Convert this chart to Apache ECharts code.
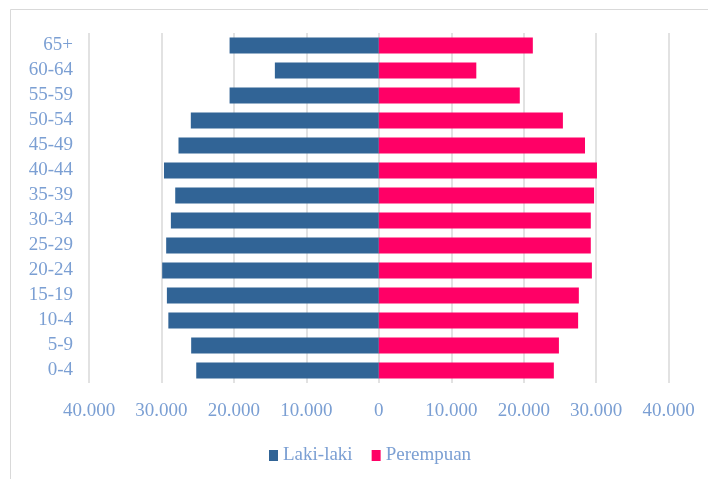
<!DOCTYPE html>
<html>
<head>
<meta charset="utf-8">
<script src="https://cdn.jsdelivr.net/npm/echarts@6/dist/echarts.min.js"></script>
<style>html,body{margin:0;padding:0;background:#fff}#c{width:708px;height:479px}</style>
</head>
<body>
<div id="c"></div>
<script>
var categories = ['0-4','5-9','10-4','15-19','20-24','25-29','30-34','35-39','40-44','45-49','50-54','55-59','60-64','65+'];
var lakiLaki = [25200, 25900, 29050, 29250, 29900, 29350, 28700, 28100, 29650, 27650, 25950, 20600, 14350, 20600];
var perempuan = [24150, 24850, 27500, 27600, 29400, 29250, 29250, 29700, 30100, 28450, 25400, 19450, 13450, 21250];
var seriesNames = ['Laki-laki', 'Perempuan'];

var labelColor = '#7B9FD3';
var fontFamily = '"Liberation Serif", "DejaVu Serif", serif';
var chart = echarts.init(document.getElementById('c'), null, {renderer: 'canvas'});
chart.setOption({
  animation: false,
  backgroundColor: '#ffffff',
  graphic: [{
    type: 'polyline', silent: true,
    shape: {points: [[10.5, 479], [10.5, 9.5], [708, 9.5]]},
    style: {stroke: '#D9D9D9', lineWidth: 1, fill: null}
  }],
  grid: {left: 89, right: 39.3, top: 33, bottom: 96, containLabel: false},
  legend: {
    data: seriesNames,
    left: 264, top: 441,
    icon: 'rect', itemWidth: 9, itemHeight: 11, itemGap: 19,
    textStyle: {color: labelColor, fontSize: 19, fontFamily: fontFamily}
  },
  xAxis: {
    type: 'value', min: -40000, max: 40000, interval: 10000,
    axisLine: {show: false}, axisTick: {show: false},
    splitLine: {lineStyle: {color: '#D9D9D9', width: 1.5}},
    axisLabel: {
      color: labelColor, fontSize: 19, fontFamily: fontFamily, margin: 19,
      formatter: function (v) {
        var a = Math.abs(v);
        return a === 0 ? '0' : (a / 1000) + '.000';
      }
    }
  },
  yAxis: {
    type: 'category', data: categories,
    axisLine: {show: false}, axisTick: {show: false},
    axisLabel: {color: labelColor, fontSize: 19, fontFamily: fontFamily, margin: 16}
  },
  series: [
    {
      name: seriesNames[0], type: 'bar', stack: 'pop', barWidth: 16,
      itemStyle: {color: '#316496'},
      data: lakiLaki.map(function (v) { return -v; })
    },
    {
      name: seriesNames[1], type: 'bar', stack: 'pop', barWidth: 16,
      itemStyle: {color: '#FF0066'},
      data: perempuan
    }
  ]
});
</script>
</body>
</html>
